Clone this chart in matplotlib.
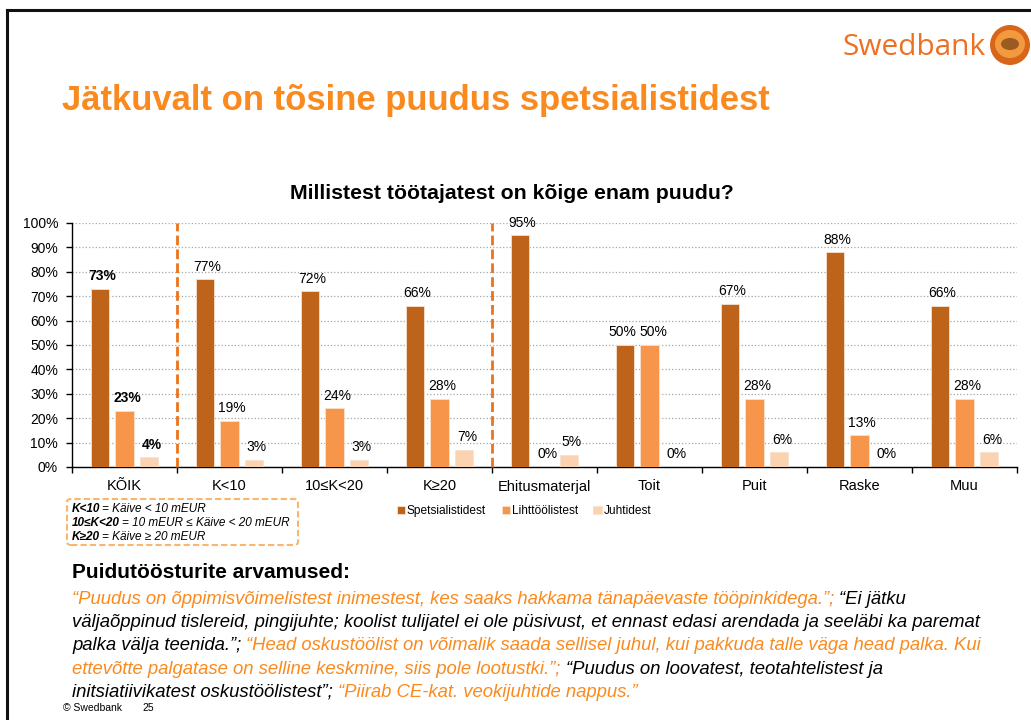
import numpy as np
import matplotlib
matplotlib.use("Agg")
import matplotlib.pyplot as plt
from matplotlib.patches import FancyBboxPatch, Ellipse
from matplotlib.lines import Line2D

plt.rcParams['font.family'] = ['Liberation Sans', 'DejaVu Sans']

W, H = 1031, 720

# ── data ────────────────────────────────────────────────────────────────────────
CATEGORIES = ["KÕIK", "K<10", "10≤K<20", "K≥20", "Ehitusmaterjal", "Toit", "Puit", "Raske", "Muu"]
SERIES     = ["Spetsialistidest", "Lihttöölistest", "Juhtidest"]
SPETS      = [73, 77, 72, 66, 95, 50, 67, 88, 66]
LIHT       = [23, 19, 24, 28, 0, 50, 28, 13, 28]
JUHT       = [4, 3, 3, 7, 5, 0, 6, 0, 6]
SEPARATORS = [0.5, 3.5]          # between KÕIK | size groups | sectors
BOLD_GROUP = 0

NOTE_LINES = [("K<10", "= Käive < 10 mEUR"),
              ("10≤K<20", "= 10 mEUR ≤ Käive < 20 mEUR"),
              ("K≥20", "= Käive ≥ 20 mEUR")]

ORANGE = "#FA8A1E"
BLACK  = "#000000"
QUOTE_LINES = [
    [("\u201cPuudus on õppimisvõimelistest inimestest, kes saaks hakkama tänapäevaste tööpinkidega.\u201d;", ORANGE),
     ("\u201cEi jätku", BLACK)],
    [("väljaõppinud tislereid, pingijuhte; koolist tulijatel ei ole püsivust, et ennast edasi arendada ja seeläbi ka paremat", BLACK)],
    [("palka välja teenida.\u201d;", BLACK),
     ("\u201cHead oskustöölist on võimalik saada sellisel juhul, kui pakkuda talle väga head palka. Kui", ORANGE)],
    [("ettevõtte palgatase on selline keskmine, siis pole lootustki.\u201d;", ORANGE),
     ("\u201cPuudus on loovatest, teotahtelistest ja", BLACK)],
    [("initsiatiivikatest oskustöölistest\u201d;", BLACK),
     ("\u201cPiirab CE-kat. veokijuhtide nappus.\u201d", ORANGE)],
]

COLORS = ["#BE631A", "#F7964A", "#FCD3B1"]


def fx(x):
    return x / W


def fy(y):
    return 1 - y / H


fig = plt.figure(figsize=(W / 100, H / 100), dpi=100)
fig.patch.set_facecolor("white")
r = fig.canvas.get_renderer()

# ── slide frame ─────────────────────────────────────────────────────────────────
fig.add_artist(Line2D([fx(7), fx(7)], [fy(10), 0], transform=fig.transFigure, color="#111111", lw=2.2))
fig.add_artist(Line2D([fx(7), 1], [fy(10), fy(10)], transform=fig.transFigure, color="#111111", lw=2.2))

# logo
fig.text(fx(842), fy(55), "Swedbank", color="#EE7023", fontsize=21.5, family="Open Sans",
         ha="left", va="baseline")
fig.add_artist(Ellipse((fx(1010), fy(45)), 40 / W, 40 / H, transform=fig.transFigure,
                       facecolor="#D8661A", edgecolor="none"))
fig.add_artist(Ellipse((fx(1010), fy(44)), 30 / W, 28 / H, transform=fig.transFigure,
                       facecolor="#F39A3E", edgecolor="none"))
fig.add_artist(Ellipse((fx(1010), fy(44)), 18 / W, 12 / H, transform=fig.transFigure,
                       facecolor="#9A5A22", edgecolor="none"))

# slide title
fig.text(fx(62), fy(110), "Jätkuvalt on tõsine puudus spetsialistidest", color=ORANGE,
         fontsize=24.9, fontweight="bold", ha="left", va="baseline")

# ── chart ───────────────────────────────────────────────────────────────────────
ax = fig.add_axes([fx(72), fy(467), (1017 - 72) / W, (467 - 223) / H])
x = np.arange(len(CATEGORIES))
offsets = [-0.235, 0.0, 0.235]
series_vals = [SPETS, LIHT, JUHT]
bars = []
for k, (vals, off, col, name) in enumerate(zip(series_vals, offsets, COLORS, SERIES)):
    v = np.array(vals) / 100
    b = ax.bar(x + off, v, width=0.176, color=col, edgecolor="#F6E2CF", linewidth=0.6,
               label=name, zorder=3)
    bars.append(b)
    for i, val in enumerate(vals):
        dx = 2
        # push apart two neighbouring labels standing at the same height
        if k == 0 and abs(SPETS[i] - LIHT[i]) < 5:
            dx = -2
        if k == 1 and abs(SPETS[i] - LIHT[i]) < 5:
            dx = 3
        ax.annotate(f"{val}%", xy=(x[i] + off, v[i]), xytext=(dx, 4), textcoords="offset points",
                    ha="center", va="bottom", fontsize=10,
                    fontweight="bold" if i == BOLD_GROUP else "normal",
                    annotation_clip=False, zorder=5)

for s in SEPARATORS:
    ax.axvline(s, ymin=0, ymax=1.0, color="#EE7219", lw=2, ls=(0, (3.5, 1.5)), zorder=4,
               clip_on=False)

ax.set_xlim(-0.5, len(CATEGORIES) - 0.5)
ax.set_ylim(0, 1)
ax.set_yticks(np.arange(0, 1.01, 0.1))
ax.set_yticklabels([f"{int(round(t * 100))}%" for t in np.arange(0, 1.01, 0.1)], fontsize=10)
ax.set_xticks(x)
ax.set_xticklabels(CATEGORIES, fontsize=10.5)
ax.set_xticks(np.arange(-0.5, len(CATEGORIES), 1.0), minor=True)
ax.tick_params(axis="x", which="major", length=0, pad=9)
ax.tick_params(axis="x", which="minor", length=4, width=1, direction="out")
ax.tick_params(axis="y", length=4, width=1, direction="out", pad=6)
ax.yaxis.grid(True, ls=":", color="#A6A6A6", lw=0.9, zorder=0)
ax.set_axisbelow(True)
for sp in ["top", "right"]:
    ax.spines[sp].set_visible(False)
for sp in ["left", "bottom"]:
    ax.spines[sp].set_linewidth(1.0)

fig.text(fx(512), fy(199), "Millistest töötajatest on kõige enam puudu?", fontsize=15.3,
         fontweight="bold", ha="center", va="baseline")

fig.legend(handles=bars, labels=SERIES, loc="center", bbox_to_anchor=(fx(524), fy(511)),
           bbox_transform=fig.transFigure, ncol=3, frameon=False, fontsize=8.6,
           handlelength=0.7, handleheight=0.7, handletextpad=0.15, columnspacing=1.3)

# ── note box ────────────────────────────────────────────────────────────────────
fig.add_artist(FancyBboxPatch((fx(67), fy(545)), (298 - 67) / W, (545 - 499) / H,
                              boxstyle="round,pad=0,rounding_size=0.004",
                              transform=fig.transFigure, facecolor="none",
                              edgecolor="#FAB66E", lw=1.5, ls=(0, (3, 1.5))))


def text_width(s, **kw):
    t = fig.text(0, 0, s, **kw)
    w = t.get_window_extent(renderer=r).width
    t.remove()
    return w


def space_width(**kw):
    return text_width("a a", **kw) - text_width("aa", **kw)


note_kw = dict(fontsize=8.5, style="italic")
for i, (lead, rest) in enumerate(NOTE_LINES):
    yb = 512 + i * 14.2
    t = fig.text(fx(72), fy(yb), lead, fontweight="bold", ha="left", va="baseline", **note_kw)
    w = t.get_window_extent(renderer=r).width
    fig.text(fx(72 + w + 0.6 * space_width(**note_kw)), fy(yb), rest, ha="left", va="baseline",
             **note_kw)

# ── quotes ──────────────────────────────────────────────────────────────────────
fig.text(fx(72), fy(578), "Puidutöösturite arvamused:", fontsize=15,
         fontweight="bold", ha="left", va="baseline")

q_kw = dict(fontsize=13.3, style="italic")
sp_w = space_width(**q_kw)
for i, line in enumerate(QUOTE_LINES):
    yb = 604 + i * 23.2
    xp = 72
    for s, col in line:
        t = fig.text(fx(xp), fy(yb), s, color=col, ha="left", va="baseline", **q_kw)
        xp += t.get_window_extent(renderer=r).width + sp_w

fig.text(fx(63), fy(711), "© Swedbank", fontsize=7.5, ha="left", va="baseline")
fig.text(fx(142), fy(711), "25", fontsize=7.5, ha="left", va="baseline")

fig.savefig("out.png", dpi=100)
plt.close(fig)
